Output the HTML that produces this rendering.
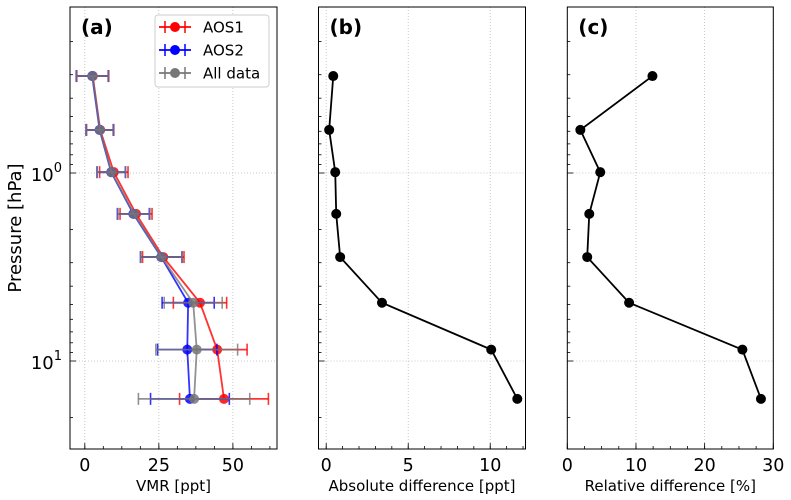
<!DOCTYPE html>
<html><head><meta charset="utf-8"><style>
body{margin:0;background:#fff}
svg{display:block;font-family:"DejaVu Sans","Liberation Sans",sans-serif}
</style></head><body>
<svg id="c" width="791" height="500" xmlns="http://www.w3.org/2000/svg"></svg>
<script>
const pressures=[0.305,0.59,0.99,1.65,2.8,4.9,8.7,15.9];
const aos1=[2.7,5.2,9.8,17.3,26.5,38.9,44.7,47.0];
const aos1Err=[5.4,4.6,4.8,5.4,7.0,9.0,10.1,15.0];
const aos2=[2.5,5.0,8.9,16.4,25.8,34.9,34.6,35.5];
const aos2Err=[5.4,4.6,4.8,5.4,7.0,8.8,10.0,13.3];
const allData=[2.6,5.1,9.0,16.6,25.9,36.6,37.8,36.9];
const allErr=[5.4,4.6,4.8,5.4,7.0,9.8,13.8,18.8];
const absDiff=[0.43,0.18,0.55,0.61,0.85,3.4,10.06,11.65];
const relDiff=[12.4,1.9,4.8,3.2,2.9,9.0,25.5,28.2];
const xTicksA=[0,25,50];
const xTicksB=[0,5,10];
const xTicksC=[0,10,20,30];

const svg=document.getElementById('c');
const NS='http://www.w3.org/2000/svg';
function mk(tag,attrs,parent){const e=document.createElementNS(NS,tag);for(const k in attrs)e.setAttribute(k,attrs[k]);(parent||svg).appendChild(e);return e;}
const axTop=7,bot=449;
function yP(p){return 173+188*Math.log10(p);}
const panels=[
 {name:'panel-a',l:70,r:277,x0:-5,x1:64.9,ticks:xTicksA,minor:6.25,label:'VMR [ppt]',tag:'(a)'},
 {name:'panel-b',l:318.5,r:525.5,x0:-0.47,x1:12.15,ticks:xTicksB,minor:1,label:'Absolute difference [ppt]',tag:'(b)'},
 {name:'panel-c',l:567.3,r:773.3,x0:0,x1:30,ticks:xTicksC,minor:2.5,label:'Relative difference [%]',tag:'(c)'}
];
panels.forEach((P,i)=>{
 const g=mk('g',{});
 
 
 P.x=v=>P.l+(v-P.x0)/(P.x1-P.x0)*(P.r-P.l);
 P.ticks.forEach(t=>{const gl=mk('line',{x1:P.x(t),x2:P.x(t),y1:axTop,y2:bot,stroke:'#bbb','stroke-width':0.8,'stroke-dasharray':'1,2'},g);
  
  });
 [1,10].forEach(p=>{const gl=mk('line',{x1:P.l,x2:P.r,y1:yP(p),y2:yP(p),stroke:'#bbb','stroke-width':0.8,'stroke-dasharray':'1,2'},g);
  
  });
 for(let v=Math.ceil(P.x0/P.minor)*P.minor;v<=P.x1+1e-9;v+=P.minor){const X=P.x(v);mk('line',{x1:X,x2:X,y1:bot,y2:bot-3,stroke:'#000','stroke-width':0.8},g);}
 P.ticks.forEach(t=>{const X=P.x(t);mk('line',{x1:X,x2:X,y1:bot,y2:bot-6,stroke:'#000','stroke-width':0.8},g);
  const tx=mk('text',{x:X,y:bot+22,'font-size':17.5,'text-anchor':'middle'},g);tx.textContent=t;
  
  });
 [0.1,1,10].forEach(d=>{for(let k=1;k<10;k++){const p=d*k;const Y=yP(p);if(Y<axTop||Y>bot)continue;const len=k==1?6:3;mk('line',{x1:P.l,x2:P.l+len,y1:Y,y2:Y,stroke:'#000','stroke-width':0.8},g);}});
 if(i==0){[[1,'0'],[10,'1']].forEach(([p,e])=>{const t=mk('text',{x:P.l-8,y:yP(p)+8,'font-size':18,'text-anchor':'end'},g);
  t.appendChild(document.createTextNode('10'));
  const sp=mk('tspan',{dy:-9,'font-size':13},t);sp.textContent=e;
  
  });}
 const xl=mk('text',{x:(P.l+P.r)/2,y:491,'font-size':15,'text-anchor':'middle'},g);xl.textContent=P.label;
 
 
 P.g=g;
});
const yl=mk('text',{x:21,y:228,'font-size':18,'text-anchor':'middle',transform:'rotate(-90 21 228)'});yl.textContent='Pressure [hPa]';



function series(P,vals,errs,color,name){
 const g=mk('g',{},P.g);
 
 
 if(errs){vals.forEach((v,k)=>{const Y=yP(pressures[k]);const a=P.x(v-errs[k]),b=P.x(v+errs[k]);
  mk('line',{x1:a,x2:b,y1:Y,y2:Y,stroke:color,'stroke-width':1.8,opacity:0.8},g);
  [a,b].forEach(X=>mk('line',{x1:X,x2:X,y1:Y-6,y2:Y+6,stroke:color,'stroke-width':1.6,opacity:0.8},g));});}
 mk('polyline',{points:vals.map((v,k)=>P.x(v)+','+yP(pressures[k])).join(' '),fill:'none',stroke:color,'stroke-width':1.8,opacity:errs?0.8:1},g);
 vals.forEach((v,k)=>{const pt=mk('circle',{cx:P.x(v),cy:yP(pressures[k]),r:5,fill:color,opacity:errs?0.85:1},g);
  
  });
}
const PA=panels[0];
series(PA,aos1,aos1Err,'#f00','series-aos1');
series(PA,aos2,aos2Err,'#00f','series-aos2');
series(PA,allData,allErr,'#777','series-all-data');
series(panels[1],absDiff,null,'#000','series-absolute-difference');
series(panels[2],relDiff,null,'#000','series-relative-difference');

panels.forEach(P=>{
 const f=mk('rect',{x:P.l,y:axTop,width:P.r-P.l,height:bot-axTop,fill:'none',stroke:'#000','stroke-width':1},P.g);
 
 
 const t=mk('text',{x:P.l+11,y:34,'font-size':20,'font-weight':'bold'},P.g);t.textContent=P.tag;
 
 
});
const lg=mk('g',{});


mk('rect',{x:155,y:15,width:114,height:72,rx:3,fill:'#fff',stroke:'#ccc','stroke-width':1},lg);
[['AOS1','#f00'],['AOS2','#00f'],['All data','#777']].forEach(([n,c],k)=>{
 const Y=27+k*23;const e=mk('g',{},lg);
 
 
 mk('line',{x1:159,x2:191,y1:Y,y2:Y,stroke:c,'stroke-width':1.8},e);
 [165,185].forEach(X=>mk('line',{x1:X,x2:X,y1:Y-6,y2:Y+6,stroke:c,'stroke-width':1.5},e));
 mk('circle',{cx:175,cy:Y,r:5,fill:c},e);
 const t=mk('text',{x:203,y:Y+5.5,'font-size':15},e);t.textContent=n;
});
</script>
</body></html>
